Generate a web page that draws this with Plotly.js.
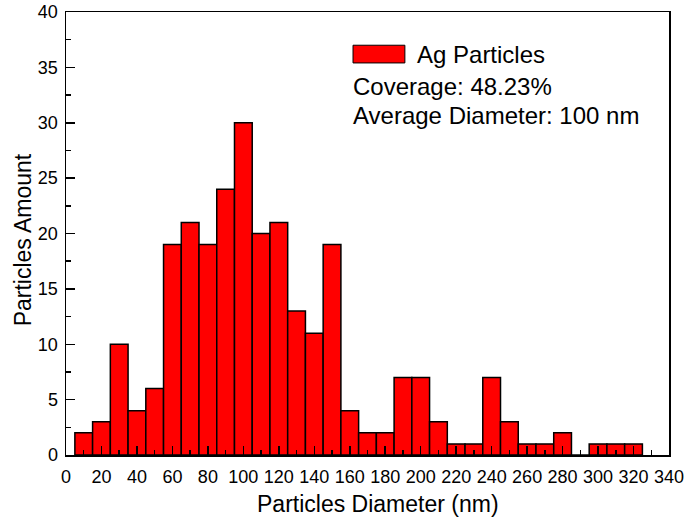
<!DOCTYPE html>
<html>
<head>
<meta charset="utf-8">
<script src="https://cdn.plot.ly/plotly-3.0.1.min.js"></script>
<style>
  body { margin: 0; background: #fff; }
  #chart { width: 685px; height: 524px; }
</style>
</head>
<body>
<div id="chart"></div>
<script>
// bin centres (nm) and counts
const binCenters = [10, 20, 30, 40, 50, 60, 70, 80, 90, 100, 110, 120, 130, 140, 150, 160,
                    170, 180, 190, 200, 210, 220, 230, 240, 250, 260, 270, 280, 290, 300, 310, 320];
const counts = [2, 3, 10, 4, 6, 19, 21, 19, 24, 30, 20, 21, 13, 11, 19, 4,
                2, 2, 7, 7, 3, 1, 1, 7, 3, 1, 1, 2, 0, 1, 1, 1];
const seriesName = "Ag Particles";
const infoLines = ["Coverage: 48.23%", "Average Diameter: 100 nm"];
const xTitle = "Particles Diameter (nm)";
const yTitle = "Particles Amount";

const font = "Liberation Sans, Arial, Helvetica, sans-serif";

let trace = {
    type: 'bar',
    x: binCenters,
    y: counts,
    width: 10,
    name: seriesName,
    marker: { color: '#ff0000', line: { color: '#000', width: 1.5 } },
    showlegend: false
};

let layout = {
    width: 685, height: 524,
    margin: { l: 66, r: 16, t: 12, b: 69 },
    paper_bgcolor: '#fff', plot_bgcolor: '#fff',
    font: { family: font, color: '#000', size: 18 },
    bargap: 0,
    xaxis: {
        range: [0, 340], dtick: 20, tick0: 0,
        showgrid: false, zeroline: false,
        showline: true, mirror: true, linecolor: '#000', linewidth: 1.5,
        ticks: 'inside', ticklen: 9, tickwidth: 1.5, tickcolor: '#000',
        minor: { dtick: 10, ticks: 'inside', ticklen: 5, tickwidth: 1.5, tickcolor: '#000' },
        tickfont: { size: 18 }, ticklabelstandoff: 5
    },
    yaxis: {
        range: [0, 40], dtick: 5, tick0: 0,
        showgrid: false, zeroline: false,
        showline: true, mirror: true, linecolor: '#000', linewidth: 1.5,
        ticks: 'inside', ticklen: 9, tickwidth: 1.5, tickcolor: '#000',
        minor: { dtick: 2.5, ticks: 'inside', ticklen: 5, tickwidth: 1.5, tickcolor: '#000' },
        tickfont: { size: 18 }, ticklabelstandoff: 3
    },
    // legend swatch drawn by hand so it matches the original size
    shapes: [{
        type: 'rect', xref: 'paper', yref: 'paper',
        x0: 0.476, x1: 0.562, y0: 0.885, y1: 0.925,
        fillcolor: '#ff0000', line: { color: '#000', width: 1 }
    }],
    annotations: [
        // axis titles as annotations: in the original they sit slightly off-centre
        { text: xTitle, xref: 'paper', yref: 'paper', x: 0.517, y: -0.11,
          xanchor: 'center', yanchor: 'middle', showarrow: false, font: { size: 23 } },
        { text: yTitle, xref: 'paper', yref: 'paper', x: -0.071, y: 0.485, textangle: -90,
          xanchor: 'center', yanchor: 'middle', showarrow: false, font: { size: 23 } },
        { text: seriesName, xref: 'paper', yref: 'paper', x: 0.578, y: 0.905,
          xanchor: 'left', yanchor: 'middle', showarrow: false, font: { size: 24 } },
        { text: infoLines[0], xref: 'paper', yref: 'paper', x: 0.472, y: 0.832,
          xanchor: 'left', yanchor: 'middle', showarrow: false, font: { size: 24 } },
        { text: infoLines[1], xref: 'paper', yref: 'paper', x: 0.472, y: 0.766,
          xanchor: 'left', yanchor: 'middle', showarrow: false, font: { size: 24 } }
    ]
};

Plotly.newPlot('chart', [trace], layout, { displayModeBar: false, staticPlot: true });
</script>
</body>
</html>
